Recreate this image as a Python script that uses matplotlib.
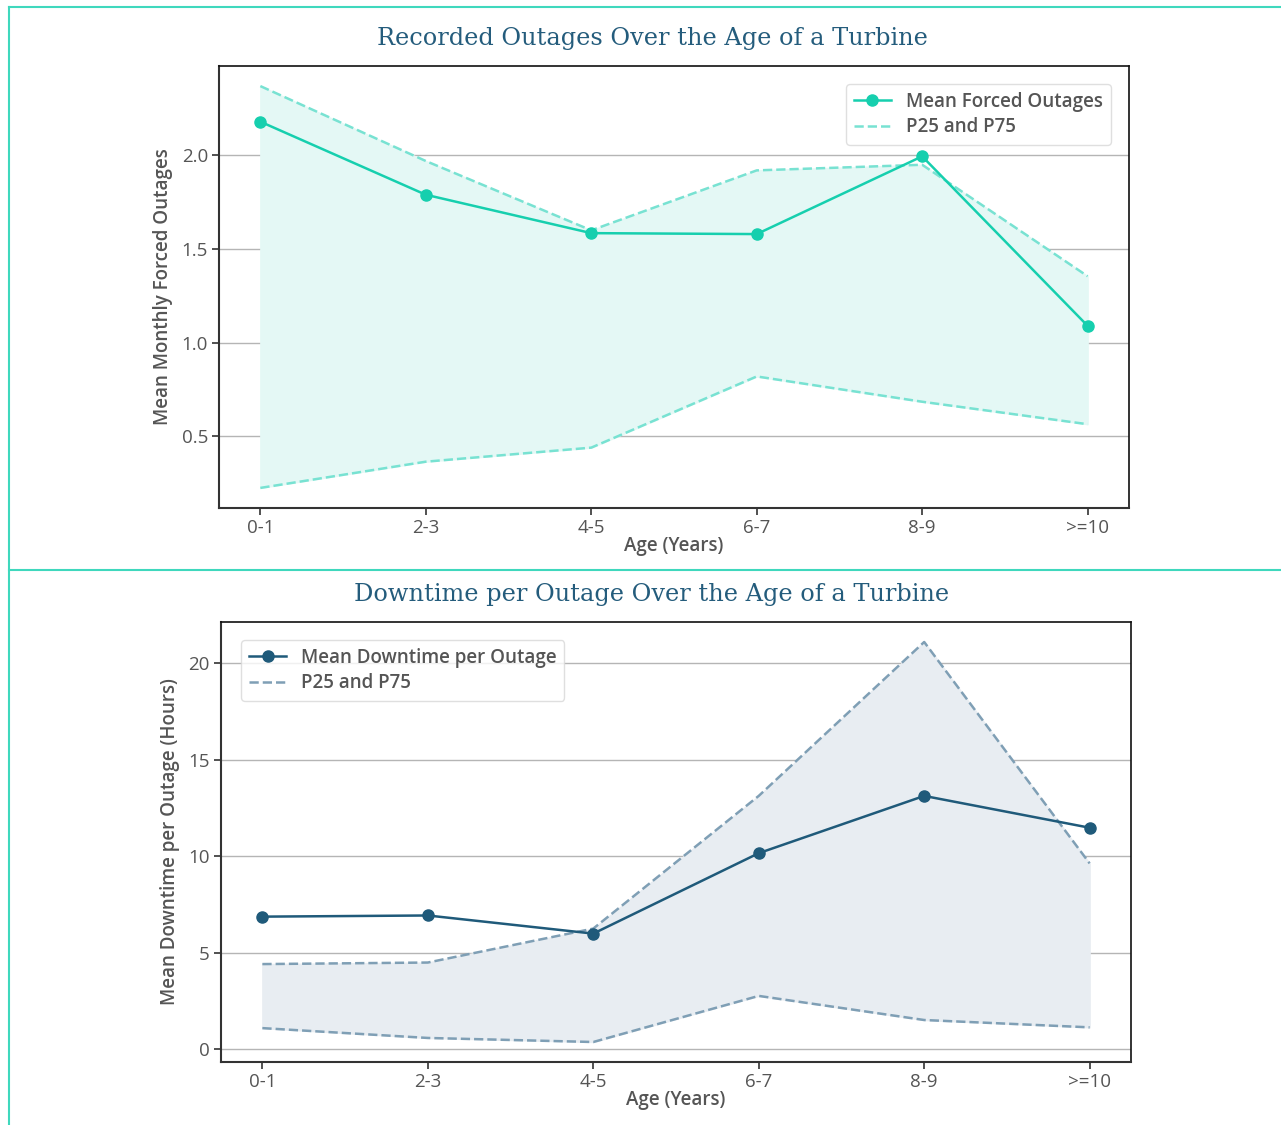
import matplotlib
matplotlib.use("Agg")
import matplotlib.pyplot as plt
from matplotlib.lines import Line2D

ages = ["0-1", "2-3", "4-5", "6-7", "8-9", ">=10"]

outage_mean = [2.18, 1.79, 1.585, 1.58, 1.995, 1.09]
outage_p75 = [2.37, 1.97, 1.60, 1.92, 1.95, 1.355]
outage_p25 = [0.225, 0.365, 0.44, 0.82, 0.685, 0.565]

down_mean = [6.86, 6.92, 5.98, 10.15, 13.12, 11.47]
down_p75 = [4.40, 4.48, 6.24, 13.12, 21.1, 9.62]
down_p25 = [1.08, 0.57, 0.36, 2.75, 1.50, 1.12]

plt.rcParams['font.family'] = ['Open Sans', 'DejaVu Sans']

W, H = 1281, 1125
fig = plt.figure(figsize=(W / 100, H / 100), dpi=100)

teal = "#16cfae"
teal_dash = "#78e2d2"
teal_fill = "#e4f8f5"
navy = "#1f5a7a"
navy_dash = "#7f9fb5"
navy_fill = "#e8edf2"
border = "#3fd8bd"
text_grey = "#555555"
title_color = "#245c7c"

def px(x0, y0, x1, y1):
    return [x0 / W, 1 - y1 / H, (x1 - x0) / W, (y1 - y0) / H]

def style_axes(ax):
    ax.grid(axis="y", color="#b5b5b5", linewidth=1.0)
    ax.set_axisbelow(True)
    for s in ["left", "bottom"]:
        ax.spines[s].set_color("#333333")
        ax.spines[s].set_linewidth(1.5)
    for s in ["top", "right"]:
        ax.spines[s].set_color("#111111")
        ax.spines[s].set_linewidth(1.2)
    ax.tick_params(axis="both", labelsize=13.5, colors="#333333", labelcolor=text_grey,
                   length=5, width=1.2, pad=3)
    ax.set_xlabel("Age (Years)", fontsize=13.5, color=text_grey, fontweight="semibold", labelpad=-1)

x = list(range(len(ages)))

# Top chart
ax1 = fig.add_axes(px(219, 66, 1129, 508))
ax1.fill_between(x, outage_p25, outage_p75, color=teal_fill, zorder=1)
ax1.plot(x, outage_p75, color=teal_dash, linestyle="--", linewidth=1.8, zorder=2,
         label="P25 and P75")
ax1.plot(x, outage_p25, color=teal_dash, linestyle="--", linewidth=1.8, zorder=2)
ax1.plot(x, outage_mean, color=teal, marker="o", markersize=8, linewidth=1.8, zorder=3,
         label="Mean Forced Outages")
ax1.set_xticks(x)
ax1.set_xticklabels(ages)
ax1.set_yticks([0.5, 1.0, 1.5, 2.0])
ax1.set_ylabel("Mean Monthly Forced Outages", fontsize=13.5, color=text_grey,
               fontweight="semibold", labelpad=6)
style_axes(ax1)
h, l = ax1.get_legend_handles_labels()
leg1 = ax1.legend(h[::-1], l[::-1], loc="upper right", bbox_to_anchor=(0.99, 0.98),
                  fontsize=13.5, frameon=True, edgecolor="#d8d8d8", fancybox=True,
                  borderpad=0.4, handlelength=2.0, labelspacing=0.3)
for t in leg1.get_texts():
    t.set_color(text_grey)
    t.set_fontweight("semibold")

# Bottom chart
ax2 = fig.add_axes(px(221, 622, 1131, 1062))
ax2.fill_between(x, down_p25, down_p75, color=navy_fill, zorder=1)
ax2.plot(x, down_p75, color=navy_dash, linestyle="--", linewidth=1.8, zorder=2,
         label="P25 and P75")
ax2.plot(x, down_p25, color=navy_dash, linestyle="--", linewidth=1.8, zorder=2)
ax2.plot(x, down_mean, color=navy, marker="o", markersize=8, linewidth=1.8, zorder=3,
         label="Mean Downtime per Outage")
ax2.set_xticks(x)
ax2.set_xticklabels(ages)
ax2.set_yticks([0, 5, 10, 15, 20])
ax2.set_ylabel("Mean Downtime per Outage (Hours)", fontsize=13.5, color=text_grey,
               fontweight="semibold", labelpad=6)
style_axes(ax2)
h, l = ax2.get_legend_handles_labels()
leg2 = ax2.legend(h[::-1], l[::-1], loc="upper left", bbox_to_anchor=(0.012, 0.98),
                  fontsize=13.5, frameon=True, edgecolor="#d8d8d8", fancybox=True,
                  borderpad=0.4, handlelength=2.0, labelspacing=0.3)
for t in leg2.get_texts():
    t.set_color(text_grey)
    t.set_fontweight("semibold")

# Titles
fig.text(652 / W, 1 - 38 / H, "Recorded Outages Over the Age of a Turbine",
         ha="center", va="center", fontsize=17.3, color=title_color, family="DejaVu Serif")
fig.text(652 / W, 1 - 595 / H, "Downtime per Outage Over the Age of a Turbine",
         ha="center", va="center", fontsize=17.3, color=title_color, family="DejaVu Serif")

# Borders
fig.add_artist(Line2D([9 / W, 1.0], [1 - 7 / H, 1 - 7 / H], color=border, linewidth=1.5))
fig.add_artist(Line2D([9 / W, 9 / W], [0, 1 - 7 / H], color=border, linewidth=1.5))
fig.add_artist(Line2D([9 / W, 1.0], [1 - 570 / H, 1 - 570 / H], color=border, linewidth=1.5))

fig.savefig("out.png", dpi=100)
